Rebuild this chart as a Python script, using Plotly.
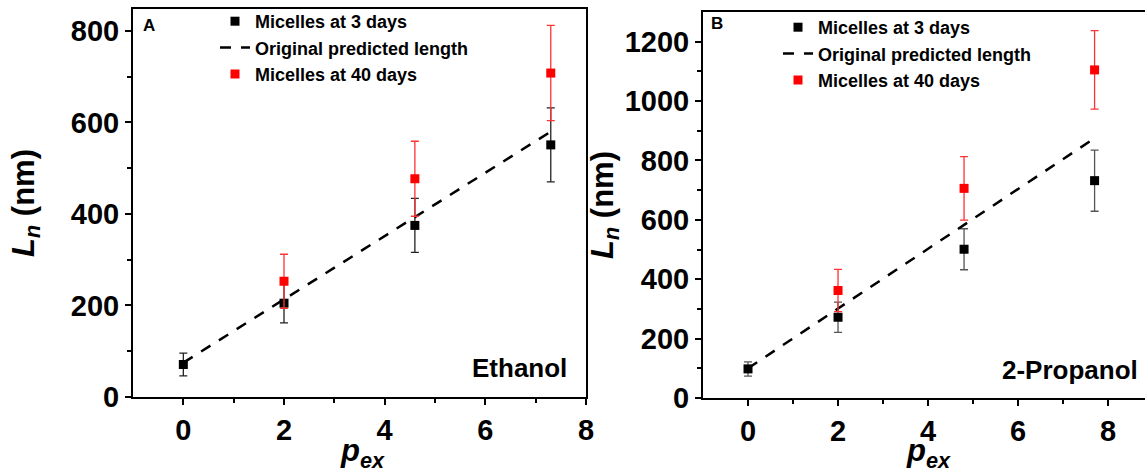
import plotly.graph_objects as go

# ---------------- Data ----------------
# Panel A: Ethanol
pex_eth = [0, 2, 4.6, 7.3]
ln3_eth = [71, 205, 375, 551]
ln3_eth_err = [25, 43, 59, 81]
pex40_eth = [2, 4.6, 7.3]
ln40_eth = [253, 477, 708]
ln40_eth_err = [59, 82, 104]
pred_eth = [75, 213, 393, 580]

# Panel B: 2-Propanol
pex_pro = [0, 2, 4.8, 7.7]
ln3_pro = [98, 272, 501, 732]
ln3_pro_err = [24, 51, 69, 103]
pex40_pro = [2, 4.8, 7.7]
ln40_pro = [362, 706, 1105]
ln40_pro_err = [71, 107, 132]
pred_pro = [100, 300, 583, 875]

names = ["Micelles at 3 days", "Original predicted length", "Micelles at 40 days"]
panel_labels = ["A", "B"]
solvents = ["Ethanol", "2-Propanol"]
x_title = "<b><i>p</i><sub><i>ex</i></sub></b>"
y_title = "<b><i>L</i><sub><i>n</i></sub> (nm)</b>"

FONT = "Liberation Sans"
W, H = 1145, 469


def px(xp):  # page x -> paper fraction
    return xp / W


def py(yp):  # page y -> paper fraction
    return 1 - yp / H


fig = go.Figure()


def add_panel(xa, ya, legend, x3, y3, e3, x40, y40, e40, ypred, ebcol):
    fig.add_trace(go.Scatter(
        x=x3, y=y3, mode="markers", name=names[0], xaxis=xa, yaxis=ya, legend=legend,
        marker=dict(symbol="square", size=9, color="black"),
        error_y=dict(type="data", array=e3, visible=True, color=ebcol, thickness=1.3, width=4),
    ))
    fig.add_trace(go.Scatter(
        x=x3, y=ypred, mode="lines", name=names[1], xaxis=xa, yaxis=ya, legend=legend,
        line=dict(color="black", width=2.5, dash="11px,10px"),
    ))
    fig.add_trace(go.Scatter(
        x=x40, y=y40, mode="markers", name=names[2], xaxis=xa, yaxis=ya, legend=legend,
        marker=dict(symbol="square", size=9, color="#ff0000"),
        error_y=dict(type="data", array=e40, visible=True, color="#ff3333", thickness=1.3, width=4),
    ))


add_panel("x", "y", "legend", pex_eth, ln3_eth, ln3_eth_err, pex40_eth, ln40_eth, ln40_eth_err, pred_eth, "#222222")
add_panel("x2", "y2", "legend2", pex_pro, ln3_pro, ln3_pro_err, pex40_pro, ln40_pro, ln40_pro_err, pred_pro, "#555555")

tickfont = dict(family=FONT, size=29, color="black", weight="bold")
axis_common = dict(
    showline=True, linecolor="black", linewidth=2, showgrid=False, zeroline=False,
    ticks="outside", ticklen=6, tickwidth=2, tickcolor="black", tickfont=tickfont,
    automargin=False,
)
minor_x = dict(tickvals=[1, 3, 5, 7], ticks="outside", ticklen=4, tickwidth=1.5, tickcolor="black")

fig.update_layout(
    width=W, height=H,
    margin=dict(l=0, r=0, t=0, b=0, autoexpand=False),
    paper_bgcolor="white", plot_bgcolor="white",
    font=dict(family=FONT, color="black"),
    xaxis=dict(**axis_common, domain=[px(133), px(586)], range=[-1, 8], anchor="y",
               tickvals=[0, 2, 4, 6, 8], mirror=True, minor=minor_x),
    yaxis=dict(**axis_common, domain=[py(397), py(9)], range=[0, 848], anchor="x",
               tickvals=[0, 200, 400, 600, 800], mirror=True,
               minor=dict(tickvals=[100, 300, 500, 700], ticks="outside", ticklen=4, tickwidth=1.5, tickcolor="black"),
               title=dict(text=y_title, font=dict(family=FONT, size=31, color="black"), standoff=27)),
    xaxis2=dict(**axis_common, domain=[px(703), 1.0], range=[-1, 8.82], anchor="y2",
                tickvals=[0, 2, 4, 6, 8], mirror=True, minor=minor_x),
    yaxis2=dict(**axis_common, domain=[py(398), py(12)], range=[0, 1300], anchor="x2",
                tickvals=[0, 200, 400, 600, 800, 1000, 1200], mirror=False,
                minor=dict(tickvals=[100, 300, 500, 700, 900, 1100], ticks="outside", ticklen=4, tickwidth=1.5, tickcolor="black"),
                title=dict(text=y_title, font=dict(family=FONT, size=31, color="black"), standoff=2)),
    legend=dict(x=px(215), y=py(3), xanchor="left", yanchor="top",
                bgcolor="rgba(0,0,0,0)", font=dict(family=FONT, size=18, color="black", weight="bold"),
                tracegroupgap=0),
    legend2=dict(x=px(778), y=py(9), xanchor="left", yanchor="top",
                 bgcolor="rgba(0,0,0,0)", font=dict(family=FONT, size=18, color="black", weight="bold"),
                 tracegroupgap=0),
    showlegend=True,
)

# x-axis titles
for xc in (362, 928):
    fig.add_annotation(text=x_title, xref="paper", yref="paper", x=px(xc), y=0,
                       xanchor="center", yanchor="bottom", yshift=-6, showarrow=False,
                       font=dict(family=FONT, size=31, color="black"))

fig.add_annotation(text="<b>%s</b>" % panel_labels[0], xref="paper", yref="paper",
                   x=px(141), y=py(25), xanchor="left", yanchor="middle", showarrow=False,
                   font=dict(family=FONT, size=17, color="black"))
fig.add_annotation(text="<b>%s</b>" % panel_labels[1], xref="paper", yref="paper",
                   x=px(709), y=py(24), xanchor="left", yanchor="middle", showarrow=False,
                   font=dict(family=FONT, size=17, color="black"))
fig.add_annotation(text="<b>%s</b>" % solvents[0], xref="paper", yref="paper",
                   x=px(569), y=py(368), xanchor="right", yanchor="middle", showarrow=False,
                   font=dict(family=FONT, size=26, color="black"))
fig.add_annotation(text="<b>%s</b>" % solvents[1], xref="paper", yref="paper",
                   x=px(1140), y=py(370), xanchor="right", yanchor="middle", showarrow=False,
                   font=dict(family=FONT, size=26, color="black"))

fig.write_html("out.html", config={"displayModeBar": False},
               post_script="document.body.style.margin='0';")
